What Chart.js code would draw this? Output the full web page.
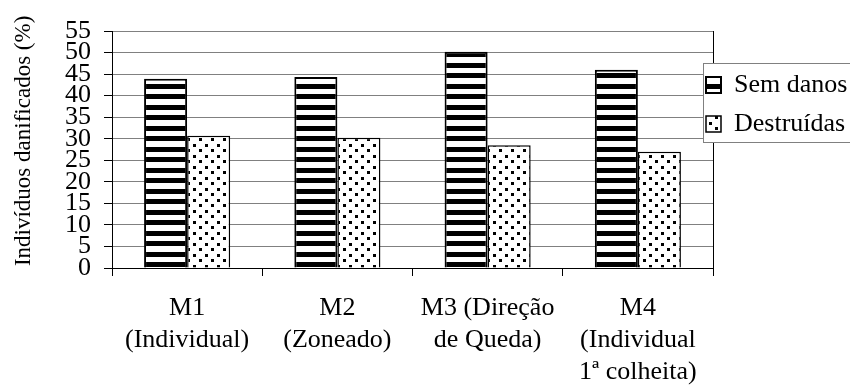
<!DOCTYPE html>
<html>
<head>
<meta charset="utf-8">
<script src="https://cdn.jsdelivr.net/npm/chart.js@4/dist/chart.umd.min.js"></script>
<style>
  html, body { margin: 0; padding: 0; background: #fff; }
  #wrap { width: 850px; height: 387px; }
</style>
</head>
<body>
<div id="wrap"><canvas id="myChart" width="850" height="387"></canvas></div>
<script>
var categorias = [
    ["M1", "(Individual)"],
    ["M2", "(Zoneado)"],
    ["M3 (Direção", "de Queda)"],
    ["M4", "(Individual", "1ª colheita)"]
];
var semDanos = [43.9, 44.3, 50.2, 46.0];
var destruidas = [30.7, 30.2, 28.5, 27.0];
var series = ["Sem danos", "Destruídas"];
var yTicks = [0, 5, 10, 15, 20, 25, 30, 35, 40, 45, 50, 55];

var serif = "Liberation Serif";

// pattern fills, like the old spreadsheet hatches
function listras() {
    var c = document.createElement('canvas');
    c.width = 8; c.height = 21;
    var g = c.getContext('2d');
    g.fillStyle = '#fff'; g.fillRect(0, 0, 8, 21);
    g.fillStyle = '#000';
    g.fillRect(0, 0, 8, 5);
    g.fillRect(0, 10, 8, 5);
    return g.createPattern(c, 'repeat');
}
function pontos() {
    var c = document.createElement('canvas');
    c.width = 12; c.height = 11;
    var g = c.getContext('2d');
    g.fillStyle = '#fff'; g.fillRect(0, 0, 12, 11);
    g.fillStyle = '#000';
    g.fillRect(1, 1, 3, 3);
    g.fillRect(7, 6, 3, 3);
    return g.createPattern(c, 'repeat');
}

// legend sits over the right edge of the plot, inside a thin frame
var moldura = {
    id: 'moldura',
    afterLayout: function (chart) {
        var a = chart.chartArea, lg = chart.legend;
        lg.left = a.right - 20;
        lg.right = chart.width;
        lg.top = 59;
        lg.bottom = 220;
    },
    afterDraw: function (chart) {
        var ctx = chart.ctx, a = chart.chartArea;
        var xr = Math.round(a.right) + 0.5;
        ctx.save();
        ctx.strokeStyle = '#000';
        ctx.lineWidth = 1;
        ctx.beginPath();
        ctx.moveTo(xr, a.top);
        ctx.lineTo(xr, a.bottom);
        ctx.stroke();
        var bx = Math.round(a.right) - 10;
        ctx.fillStyle = '#fff';
        ctx.fillRect(bx, 63, 160, 79);
        ctx.strokeStyle = '#808080';
        ctx.strokeRect(bx + 0.5, 63.5, 160, 79);
        ctx.restore();
        chart.legend.draw();
    }
};

Chart.defaults.font.family = serif;
Chart.defaults.color = '#000';

var ctx = document.getElementById("myChart").getContext('2d');
var myChart = new Chart(ctx, {
    type: 'bar',
    data: {
        labels: categorias,
        datasets: [{
            label: series[0],
            data: semDanos,
            backgroundColor: listras(),
            borderColor: '#000',
            borderWidth: 2,
            categoryPercentage: 0.573,
            barPercentage: 1
        }, {
            label: series[1],
            data: destruidas,
            backgroundColor: pontos(),
            borderColor: '#000',
            borderWidth: 1.5,
            categoryPercentage: 0.573,
            barPercentage: 1
        }]
    },
    options: {
        responsive: false,
        animation: false,
        devicePixelRatio: 1,
        layout: { padding: { top: 31, left: 0, right: 0, bottom: 0 } },
        plugins: {
            tooltip: { enabled: false },
            legend: {
                position: 'right',
                align: 'start',
                maxWidth: 137,
                labels: {
                    boxWidth: 15,
                    boxHeight: 16,
                    padding: 13,
                    color: '#000',
                    font: { family: serif, size: 26 }
                }
            }
        },
        scales: {
            x: {
                afterFit: function (s) { s.height = 119; },
                grid: {
                    display: true,
                    drawOnChartArea: false,
                    drawTicks: true,
                    tickLength: 8,
                    tickColor: '#000',
                    offset: true
                },
                border: { display: true, color: '#000', width: 1 },
                ticks: {
                    autoSkip: false,
                    maxRotation: 0,
                    minRotation: 0,
                    padding: 16,
                    color: '#000',
                    font: { family: serif, size: 26, lineHeight: 1.23 }
                }
            },
            y: {
                min: 0,
                max: 55,
                afterFit: function (s) { s.width = 112; },
                afterBuildTicks: function (s) {
                    s.ticks = yTicks.map(function (v) { return { value: v }; });
                },
                grid: {
                    color: function (c) { return c.tick && c.tick.value === 0 ? '#000' : '#808080'; },
                    tickColor: '#000',
                    tickLength: 8
                },
                border: { display: true, color: '#000', width: 1 },
                ticks: {
                    autoSkip: false,
                    padding: 13,
                    color: '#000',
                    font: { family: serif, size: 26 }
                },
                title: {
                    display: true,
                    text: '   Indivíduos danificados (%)',
                    color: '#000',
                    padding: { top: 10, bottom: 0 },
                    font: { family: serif, size: 23 }
                }
            }
        }
    },
    plugins: [moldura]
});
</script>
</body>
</html>
